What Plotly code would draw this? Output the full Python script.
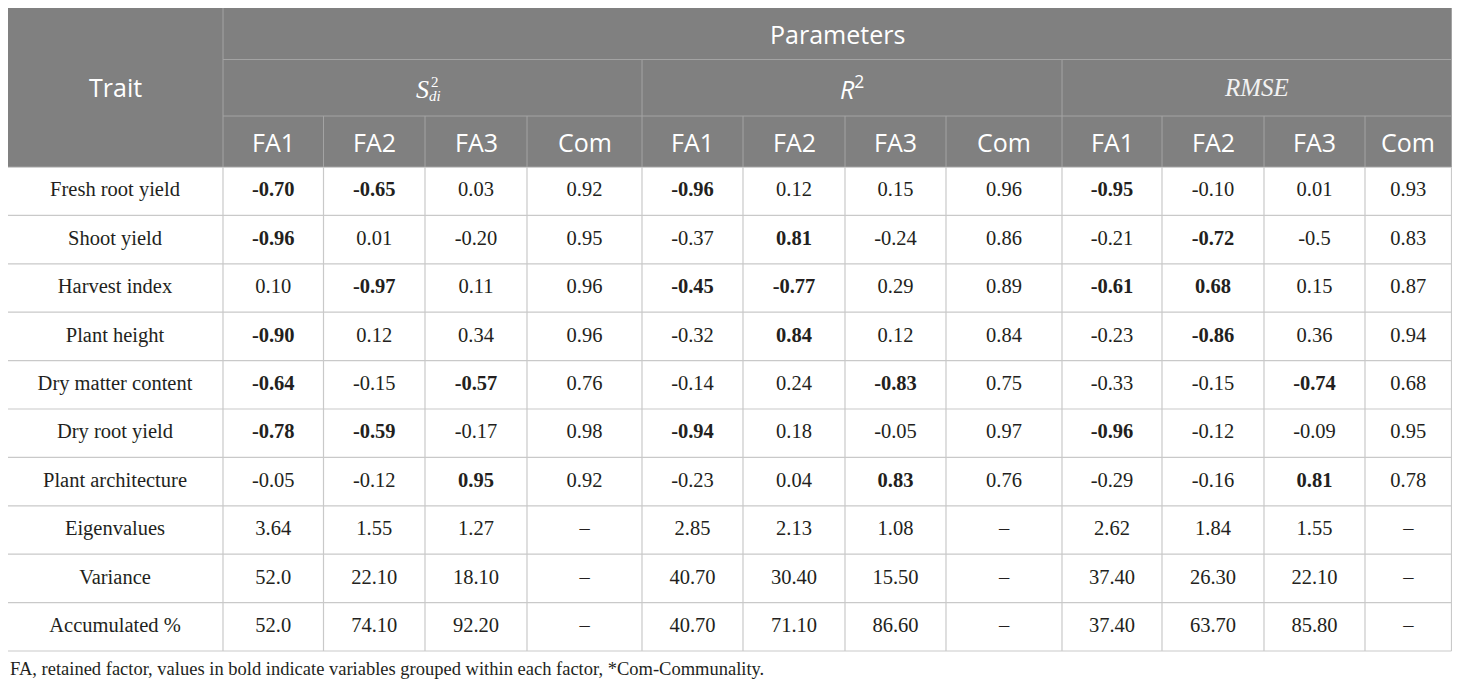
import plotly.graph_objects as go

# ---- table content ----
traits = [
    "Fresh root yield",
    "Shoot yield",
    "Harvest index",
    "Plant height",
    "Dry matter content",
    "Dry root yield",
    "Plant architecture",
    "Eigenvalues",
    "Variance",
    "Accumulated %",
]
sub_cols = ["FA1", "FA2", "FA3", "Com"]

sdi_values = [
    ["-0.70", "-0.65", "0.03", "0.92"],
    ["-0.96", "0.01", "-0.20", "0.95"],
    ["0.10", "-0.97", "0.11", "0.96"],
    ["-0.90", "0.12", "0.34", "0.96"],
    ["-0.64", "-0.15", "-0.57", "0.76"],
    ["-0.78", "-0.59", "-0.17", "0.98"],
    ["-0.05", "-0.12", "0.95", "0.92"],
    ["3.64", "1.55", "1.27", "–"],
    ["52.0", "22.10", "18.10", "–"],
    ["52.0", "74.10", "92.20", "–"],
]
r2_values = [
    ["-0.96", "0.12", "0.15", "0.96"],
    ["-0.37", "0.81", "-0.24", "0.86"],
    ["-0.45", "-0.77", "0.29", "0.89"],
    ["-0.32", "0.84", "0.12", "0.84"],
    ["-0.14", "0.24", "-0.83", "0.75"],
    ["-0.94", "0.18", "-0.05", "0.97"],
    ["-0.23", "0.04", "0.83", "0.76"],
    ["2.85", "2.13", "1.08", "–"],
    ["40.70", "30.40", "15.50", "–"],
    ["40.70", "71.10", "86.60", "–"],
]
rmse_values = [
    ["-0.95", "-0.10", "0.01", "0.93"],
    ["-0.21", "-0.72", "-0.5", "0.83"],
    ["-0.61", "0.68", "0.15", "0.87"],
    ["-0.23", "-0.86", "0.36", "0.94"],
    ["-0.33", "-0.15", "-0.74", "0.68"],
    ["-0.96", "-0.12", "-0.09", "0.95"],
    ["-0.29", "-0.16", "0.81", "0.78"],
    ["2.62", "1.84", "1.55", "–"],
    ["37.40", "26.30", "22.10", "–"],
    ["37.40", "63.70", "85.80", "–"],
]

# (row, col) of values printed in bold
sdi_bold = [(0, 0), (0, 1), (1, 0), (2, 1), (3, 0), (4, 0), (4, 2), (5, 0), (5, 1), (6, 2)]
r2_bold = [(0, 0), (1, 1), (2, 0), (2, 1), (3, 1), (4, 2), (5, 0), (6, 2)]
rmse_bold = [(0, 0), (1, 1), (2, 0), (2, 1), (3, 1), (4, 2), (5, 0), (6, 2)]

caption = (
    "FA, retained factor, values in bold indicate variables grouped within "
    "each factor, *Com-Communality."
)

# ---- geometry (page pixels; the page body has an 8px margin) ----
W, H = 1460, 688
PAD = 8
col_edges = [7, 223, 323.5, 425, 527, 642, 743, 845, 946, 1062, 1162, 1264, 1365, 1451.5]
head_edges = [7.5, 59.5, 116, 167]
row_h = 48.4
body_edges = [head_edges[-1] + i * row_h for i in range(len(traits) + 1)]

HEAD_FILL = "#808080"
HEAD_LINE = "#a3a3a3"
BODY_LINE = "#c9c9c9"
TEXT = "#231f20"
SERIF = "Liberation Serif"
SANS = "Open Sans"


def mid(a, b):
    return (a + b) / 2


shapes = []
# header background
shapes.append(dict(type="rect", x0=col_edges[0], x1=col_edges[-1], y0=head_edges[0],
                   y1=head_edges[-1], fillcolor=HEAD_FILL, line=dict(width=0), layer="below"))

# header grid
hline = dict(color=HEAD_LINE, width=1)
shapes.append(dict(type="line", x0=col_edges[1], x1=col_edges[-1], y0=head_edges[1], y1=head_edges[1], line=hline))
shapes.append(dict(type="line", x0=col_edges[1], x1=col_edges[-1], y0=head_edges[2], y1=head_edges[2], line=hline))
shapes.append(dict(type="line", x0=col_edges[1], x1=col_edges[1], y0=head_edges[0], y1=head_edges[-1], line=hline))
for g in (5, 9):
    shapes.append(dict(type="line", x0=col_edges[g], x1=col_edges[g], y0=head_edges[1], y1=head_edges[-1], line=hline))
for c in range(2, len(col_edges) - 1):
    if c in (5, 9):
        continue
    shapes.append(dict(type="line", x0=col_edges[c], x1=col_edges[c], y0=head_edges[2], y1=head_edges[-1], line=hline))
shapes.append(dict(type="rect", x0=col_edges[0], x1=col_edges[-1], y0=head_edges[0], y1=head_edges[-1],
                   line=hline))

# body grid
bline = dict(color=BODY_LINE, width=1.2)
for y in body_edges[1:]:
    shapes.append(dict(type="line", x0=col_edges[0], x1=col_edges[-1], y0=y, y1=y, line=bline))
for x in col_edges:
    shapes.append(dict(type="line", x0=x, x1=x, y0=body_edges[0], y1=body_edges[-1], line=bline))

# ---- body text ----
xs, ys, texts = [], [], []
for r, trait in enumerate(traits):
    xs.append(mid(col_edges[0], col_edges[1]))
    ys.append(mid(body_edges[r], body_edges[r + 1]))
    texts.append(trait)

for g, (vals, bold) in enumerate([(sdi_values, sdi_bold), (r2_values, r2_bold), (rmse_values, rmse_bold)]):
    for r, row in enumerate(vals):
        for c, v in enumerate(row):
            ci = 1 + g * 4 + c
            xs.append(mid(col_edges[ci], col_edges[ci + 1]))
            ys.append(mid(body_edges[r], body_edges[r + 1]))
            texts.append(f"<b>{v}</b>" if (r, c) in bold else v)

fig = go.Figure()
fig.add_trace(go.Scatter(
    x=xs, y=ys, text=texts, mode="text", textposition="middle center",
    textfont=dict(family=SERIF, size=20.5, color=TEXT), hoverinfo="skip", showlegend=False,
))

# ---- header text ----
head_font = dict(family=SANS, size=25, color="white")
annotations = [
    dict(x=mid(col_edges[0], col_edges[1]), y=mid(head_edges[0], head_edges[-1]), text="Trait", font=head_font),
    dict(x=mid(col_edges[1], col_edges[-1]), y=mid(head_edges[0], head_edges[1]), text="Parameters", font=head_font),
]
for c in range(12):
    annotations.append(dict(x=mid(col_edges[1 + c], col_edges[2 + c]), y=mid(head_edges[2], head_edges[3]),
                            text=sub_cols[c % 4], font=head_font))

# S^2_di: italic S with the 2 and di stacked to its right
gy = mid(head_edges[1], head_edges[2])
sx = 430
annotations += [
    dict(x=sx + 1, y=gy + 2, text="<i>S</i>", xanchor="right", font=dict(family=SERIF, size=26, color="white")),
    dict(x=sx - 1, y=gy - 5.5, text="2", xanchor="left", font=dict(family=SERIF, size=15, color="white")),
    dict(x=sx - 3, y=gy + 8, text="<i>di</i>", xanchor="left", font=dict(family=SERIF, size=15, color="white")),
    dict(x=mid(col_edges[5], col_edges[9]), y=gy, text="<i>R</i><sup>2</sup>", font=head_font),
    dict(x=mid(col_edges[9], col_edges[13]), y=gy, text="<i>RMSE</i>",
         font=dict(family=SERIF, size=25, color="#f2f2f2")),
    dict(x=col_edges[0] + 1, y=669, text=caption, xanchor="left",
         font=dict(family=SERIF, size=18.5, color=TEXT)),
]
for a in annotations:
    a.setdefault("xanchor", "center")
    a["yanchor"] = "middle"
    a["showarrow"] = False
    a["xref"] = "x"
    a["yref"] = "y"

fig.update_layout(
    width=W - 2 * PAD, height=H - 2 * PAD,
    margin=dict(l=0, r=0, t=0, b=0),
    paper_bgcolor="white", plot_bgcolor="white",
    shapes=shapes, annotations=annotations,
    hovermode=False,
)
fig.update_xaxes(range=[PAD, W - PAD], visible=False, fixedrange=True)
fig.update_yaxes(range=[H - PAD, PAD], visible=False, fixedrange=True)

fig.write_html("out.html", config={"displayModeBar": False})
